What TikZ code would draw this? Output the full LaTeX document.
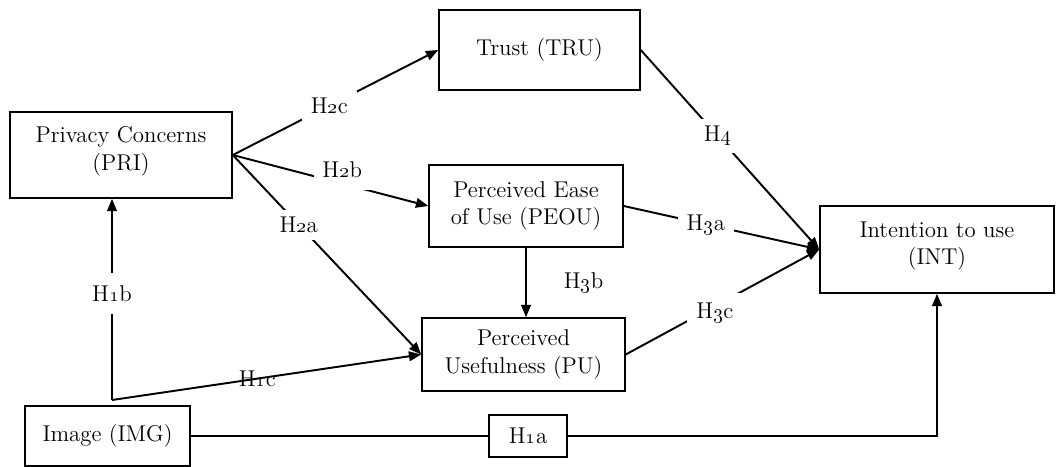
\documentclass[tikz,border=0pt]{standalone}
\usepackage{tikz}
\usetikzlibrary{arrows.meta, positioning, calc}

\tikzset{
  box/.style={draw, line width=0.9pt, fill=white, align=center, inner sep=2pt, font=\fontsize{13}{15.5}\selectfont},
  link/.style={line width=1.1pt, -{Triangle[length=7pt,width=5.5pt]}},
  hyp/.style={fill=white, inner xsep=5pt, inner ysep=4pt, font=\fontsize{13}{15.5}\selectfont},
  hypon/.style={inner sep=1pt, font=\fontsize{13}{15.5}\selectfont}
}

\begin{document}
\begin{tikzpicture}[x=0.02cm, y=-0.02cm]
  \useasboundingbox (0,0) rectangle (1056,467);

  \node[box, minimum width=4.44cm, minimum height=1.72cm] (PRI) at (121,155) {Privacy Concerns\\(PRI)\\[-8pt]~};
  \node[box, minimum width=4.02cm, minimum height=1.6cm] (TRU) at (539.5,50) {Trust (TRU)};
  \node[box, minimum width=3.88cm, minimum height=1.64cm] (PEOU) at (526,206) {Perceived Ease\\of Use (PEOU)};
  \node[box, minimum width=4.06cm, minimum height=1.46cm] (PU) at (523.5,354.5) {Perceived\\Usefulness (PU)};
  \node[box, minimum width=4.68cm, minimum height=1.74cm] (INT) at (937,249.5) {Intention to use\\(INT)\\[-8pt]~};
  \node[box, minimum width=3.3cm, minimum height=1.2cm] (IMG) at (107.5,436) {Image (IMG)};
  \coordinate (imgtop) at (112,400);

  \draw[link] (PRI.east) -- node[hyp, pos=.47] {H\oldstylenums{2}c} (TRU.west);
  \draw[link] (PRI.east) -- node[hyp, pos=.56, yshift=8pt, inner ysep=7pt] {H\oldstylenums{2}b} (PEOU.west);
  \draw[link] (PRI.east) -- node[hyp, pos=.35] {H\oldstylenums{2}a} (PU.west);
  \draw[link] (imgtop) -- node[hyp, pos=.53, inner xsep=2pt, inner ysep=7pt] {H\oldstylenums{1}b} (PRI.south -| imgtop);
  \draw[link] (imgtop) -- node[hypon, pos=.47] {H\oldstylenums{1}c} (PU.west);
  \draw[link] (TRU.east) -- node[hyp, pos=.43] {H\oldstylenums{4}} (INT.west);
  \draw[link] (PEOU.east) -- node[hyp, pos=.42] {H\oldstylenums{3}a} (INT.west);
  \draw[link] (PU.east) -- node[hyp, pos=.46, yshift=-4pt, inner ysep=6pt] {H\oldstylenums{3}c} (INT.west);
  \draw[link] (PEOU.south) -- node[hypon, right=20pt] {H\oldstylenums{3}b} (PEOU.south |- PU.north);
  \draw[link] (IMG.east) -- node[box, pos=.452, minimum width=1.56cm, minimum height=0.84cm] (H1a) {H\oldstylenums{1}a} (IMG.east -| INT.south) -- (INT.south);
\end{tikzpicture}
\end{document}
